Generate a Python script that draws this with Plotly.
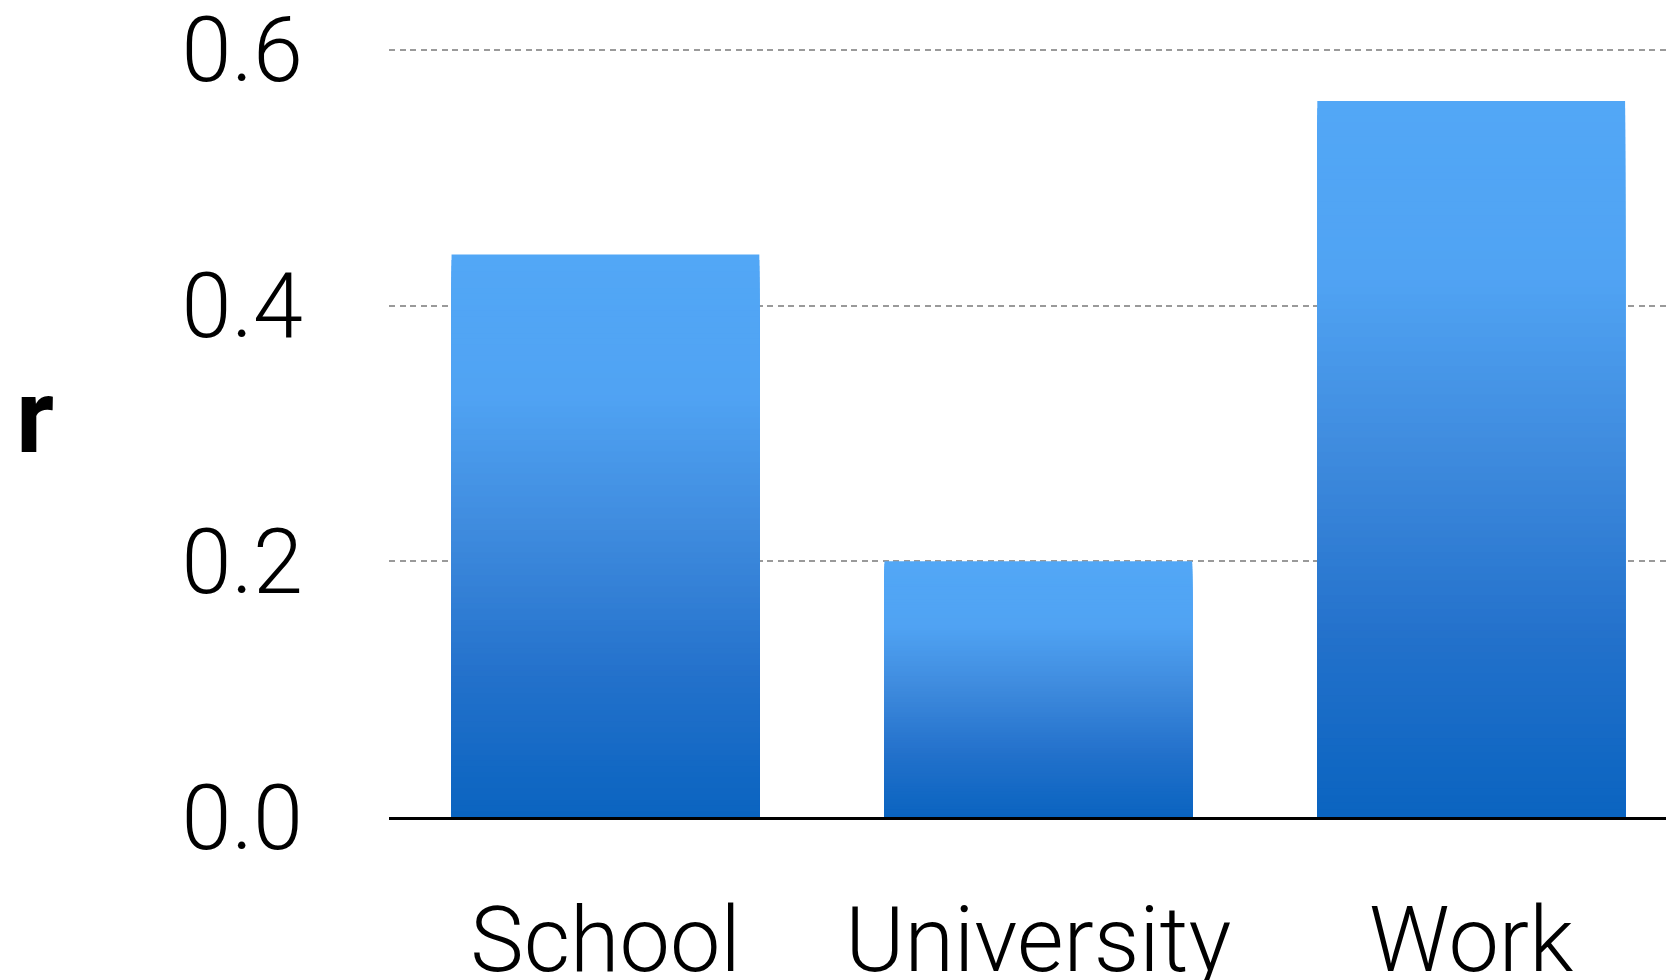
import plotly.graph_objects as go

categories = ["School", "University", "Work"]
r_values = [0.44, 0.20, 0.56]
y_tick_vals = [0.0, 0.2, 0.4, 0.6]
y_tick_text = ["0.0", "0.2", "0.4", "0.6"]
y_title = "r"

# gradient colour stops: fraction from top of bar -> rgb
grad_stops = [(0.0, (82, 167, 246)), (0.25, (80, 163, 243)), (0.5, (62, 138, 221)),
              (0.75, (35, 113, 203)), (1.0, (10, 100, 192))]


def grad_color(f):
    for (f0, c0), (f1, c1) in zip(grad_stops[:-1], grad_stops[1:]):
        if f <= f1:
            t = (f - f0) / (f1 - f0) if f1 > f0 else 0
            c = [round(a + (b - a) * t) for a, b in zip(c0, c1)]
            return "rgb(%d,%d,%d)" % tuple(c)
    return "rgb(%d,%d,%d)" % grad_stops[-1][1]


# overlapping bars: tallest first, each shorter one painted over it,
# so the visible band of each trace is its top 1/N of the bar (no seams)
N = 100
fig = go.Figure()
for k in range(N):
    h = 1 - k / N
    frac_from_top = 1 - h + 0.5 / N
    fig.add_trace(go.Bar(
        x=categories,
        y=[v * h for v in r_values],
        marker=dict(color=grad_color(frac_from_top), line=dict(width=0)),
        showlegend=False,
        hoverinfo="skip",
    ))

tick_font = dict(family="Roboto, 'Open Sans', Arial, sans-serif", size=90, color="black", weight=300)

fig.update_layout(
    width=1666, height=980,
    margin=dict(l=389, r=0, t=46, b=163),
    paper_bgcolor="white", plot_bgcolor="white",
    barmode="overlay",
    bargap=0.289,
    showlegend=False,
    xaxis=dict(
        range=[-0.5, 2.45],
        automargin=False,
        showline=True, linecolor="black", linewidth=2.5,
        showgrid=False, zeroline=False,
        ticks="outside", ticklen=43, tickcolor="rgba(0,0,0,0)",
        tickfont=tick_font, ticklabeloverflow="allow",
    ),
    yaxis=dict(
        range=[0, 0.603],
        automargin=False,
        tickvals=y_tick_vals, ticktext=y_tick_text,
        showgrid=True, gridcolor="#9a9a9a", gridwidth=2, griddash="6px,4.5px",
        zeroline=False, showline=False,
        ticks="outside", ticklen=67, tickcolor="rgba(0,0,0,0)",
        tickfont=tick_font, ticklabeloverflow="allow",
    ),
    annotations=[dict(
        text=y_title, xref="paper", yref="paper", x=-0.277, y=0.52,
        xanchor="center", yanchor="middle", showarrow=False,
        font=dict(family="Roboto, Arial, sans-serif", size=104, color="black", weight=700),
    )],
)

fig.write_html("out.html")
